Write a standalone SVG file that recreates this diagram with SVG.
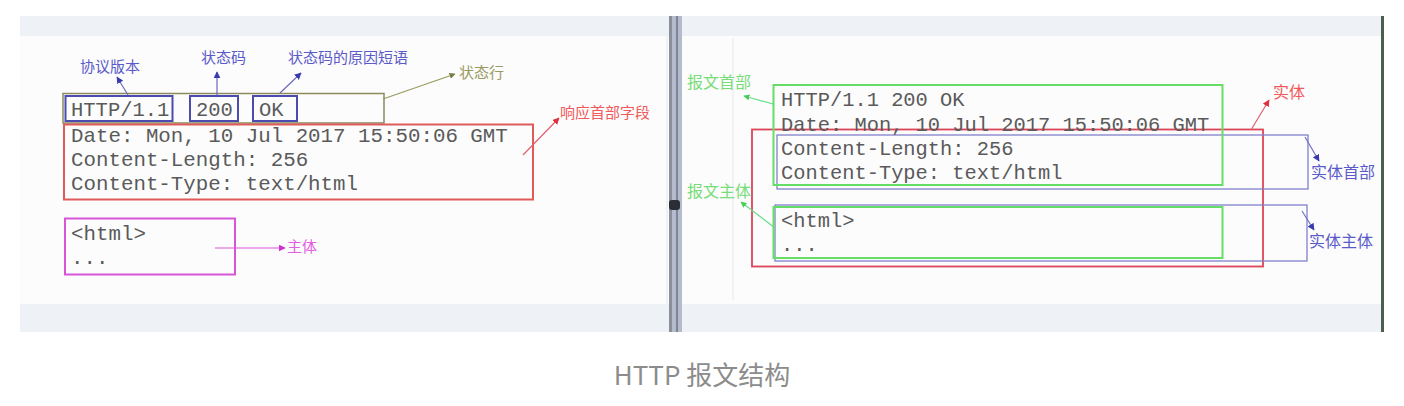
<svg xmlns="http://www.w3.org/2000/svg" width="1404" height="406" viewBox="0 0 1404 406">
<style>
.code{font-family:"Liberation Mono","DejaVu Sans Mono",monospace;fill:#5a5a5a;}
.lbl{font-family:"Noto Sans CJK SC","Noto Sans",sans-serif;font-size:15px;}
.lblr{font-family:"Noto Sans CJK SC","Noto Sans",sans-serif;font-size:16px;}
.box{fill:none;}
</style>
<defs>
<marker id="aB" viewBox="0 0 10 10" refX="9" refY="5" markerWidth="7" markerHeight="7" markerUnits="userSpaceOnUse" orient="auto"><path d="M0,0L10,5L0,10z" fill="#3a3ab0"/></marker>
<marker id="aO" viewBox="0 0 10 10" refX="9" refY="5" markerWidth="6" markerHeight="6" markerUnits="userSpaceOnUse" orient="auto"><path d="M0,0L10,5L0,10z" fill="#7a7a40"/></marker>
<marker id="aR" viewBox="0 0 10 10" refX="9" refY="5" markerWidth="7" markerHeight="7" markerUnits="userSpaceOnUse" orient="auto"><path d="M0,0L10,5L0,10z" fill="#e03040"/></marker>
<marker id="aM" viewBox="0 0 10 10" refX="9" refY="5" markerWidth="7" markerHeight="7" markerUnits="userSpaceOnUse" orient="auto"><path d="M0,0L10,5L0,10z" fill="#d030d0"/></marker>
<marker id="aG" viewBox="0 0 10 10" refX="9" refY="5" markerWidth="6" markerHeight="6" markerUnits="userSpaceOnUse" orient="auto"><path d="M0,0L10,5L0,10z" fill="#44cc55"/></marker>
</defs>
<rect width="1404" height="406" fill="#ffffff"/>
<g id="background">
<rect x="20" y="16" width="649" height="316" fill="#fcfcfd"/>
<rect x="20" y="16" width="649" height="20" fill="#eef1f5"/>
<rect x="20" y="304" width="649" height="28" fill="#eef1f5"/>
<line x1="667" y1="36" x2="667" y2="304" stroke="#e4e6ea" stroke-width="1"/>
<rect x="682" y="16" width="700" height="316" fill="#fcfcfd"/>
<rect x="682" y="16" width="700" height="20" fill="#eef1f5"/>
<rect x="682" y="304" width="700" height="28" fill="#eef1f5"/>
<line x1="733" y1="38" x2="733" y2="300" stroke="#e6e8ec" stroke-width="1"/>
<rect x="669" y="16" width="13" height="316" fill="#b4bbcc"/>
<rect x="669" y="16" width="3" height="316" fill="#8a8f99"/>
<rect x="676" y="16" width="2" height="316" fill="#7d8496"/>
<rect x="669" y="200" width="11" height="10" rx="3" fill="#2a2e36"/>
<rect x="1381" y="16" width="3" height="316" fill="#4e5e4c"/>
</g>
<g id="left-status-line">
<rect class="box" x="63" y="93.5" width="321" height="29.5" stroke="#8a8a5c" stroke-width="1.5"/>
<rect class="box" x="65.5" y="96" width="107" height="25" stroke="#4b4bb0" stroke-width="2"/>
<rect class="box" x="190" y="96" width="48" height="25" stroke="#4b4bb0" stroke-width="2"/>
<rect class="box" x="253" y="96" width="44" height="25" stroke="#4b4bb0" stroke-width="2"/>
<text class="code" x="71" y="116" font-size="20.5">HTTP/1.1</text>
<text class="code" x="196" y="116" font-size="20.5">200</text>
<text class="code" x="259" y="116" font-size="20.5">OK</text>
</g>
<g id="left-headers">
<rect class="box" x="64" y="124.5" width="469" height="75" stroke="#e05a5a" stroke-width="2"/>
<text class="code" x="71" y="142" font-size="20.8">Date: Mon, 10 Jul 2017 15:50:06 GMT</text>
<text class="code" x="71" y="166" font-size="20.8">Content-Length: 256</text>
<text class="code" x="71" y="190" font-size="20.8">Content-Type: text/html</text>
</g>
<g id="left-body">
<rect class="box" x="65" y="218.5" width="170" height="56" stroke="#d855d8" stroke-width="2"/>
<text class="code" x="71" y="240" font-size="20.8">&lt;html&gt;</text>
<text class="code" x="71" y="264" font-size="20.8">...</text>
</g>
<g id="left-labels">
<text class="lbl" x="80" y="72" fill="#5a5ac8">协议版本</text>
<text class="lbl" x="201" y="63" fill="#5a5ac8">状态码</text>
<text class="lbl" x="288" y="63" fill="#5a5ac8">状态码的原因短语</text>
<text class="lbl" x="459" y="78" fill="#9a9a60">状态行</text>
<text class="lbl" x="560" y="118" fill="#f05a5a">响应首部字段</text>
<text class="lbl" x="287" y="252" fill="#e060e0">主体</text>
</g>
<g id="right-message">
<rect class="box" x="752" y="129.5" width="511" height="137" stroke="#dd4455" stroke-width="1.8"/>
<rect class="box" x="777" y="135" width="531" height="54" stroke="#8080cc" stroke-width="1.3"/>
<rect class="box" x="775" y="205" width="532" height="56" stroke="#8080cc" stroke-width="1.3"/>
<rect class="box" x="773.5" y="85" width="449" height="100" stroke="#66dd66" stroke-width="2"/>
<rect class="box" x="773.5" y="207" width="449" height="51" stroke="#66dd66" stroke-width="2"/>
<text class="code" x="781" y="106" font-size="20.4">HTTP/1.1 200 OK</text>
<text class="code" x="781" y="131" font-size="20.4">Date: Mon, 10 Jul 2017 15:50:06 GMT</text>
<text class="code" x="781" y="155" font-size="20.4">Content-Length: 256</text>
<text class="code" x="781" y="179" font-size="20.4">Content-Type: text/html</text>
<text class="code" x="781" y="227" font-size="20.4">&lt;html&gt;</text>
<text class="code" x="781" y="251" font-size="20.4">...</text>
</g>
<g id="right-labels">
<text class="lblr" x="687" y="88" fill="#77dd77">报文首部</text>
<text class="lblr" x="687" y="197" fill="#77dd77">报文主体</text>
<text class="lblr" x="1273" y="98" fill="#f05a5a">实体</text>
<text class="lblr" x="1311" y="178" fill="#5a5ac8">实体首部</text>
<text class="lblr" x="1309" y="247" fill="#5a5ac8">实体主体</text>
</g>
<g id="connectors" fill="none" stroke-width="1.2">
<line x1="128" y1="95" x2="117" y2="77" stroke="#6a6ac0" marker-end="url(#aB)"/>
<line x1="217" y1="95" x2="217" y2="72" stroke="#6a6ac0" marker-end="url(#aB)"/>
<line x1="280" y1="93" x2="301" y2="73" stroke="#6a6ac0" marker-end="url(#aB)"/>
<line x1="383" y1="99" x2="455" y2="74" stroke="#9a9a60" marker-end="url(#aO)"/>
<line x1="523" y1="155" x2="559" y2="118" stroke="#e06070" marker-end="url(#aR)"/>
<line x1="215" y1="248" x2="285" y2="248" stroke="#d855d8" marker-end="url(#aM)"/>
<line x1="773" y1="104" x2="744" y2="96" stroke="#66dd88" marker-end="url(#aG)"/>
<line x1="775" y1="228" x2="741" y2="202" stroke="#66dd88" marker-end="url(#aG)"/>
<line x1="1251" y1="130" x2="1269" y2="100" stroke="#e06070" marker-end="url(#aR)"/>
<line x1="1305" y1="137" x2="1319" y2="161" stroke="#7070c8" marker-end="url(#aB)"/>
<line x1="1302" y1="211" x2="1314" y2="230" stroke="#7070c8" marker-end="url(#aB)"/>
</g>
<text x="702" y="385" text-anchor="middle" font-family="Noto Sans CJK SC,Noto Sans,sans-serif" font-size="26" fill="#8c8c8c">HTTP 报文结构</text>
</svg>
